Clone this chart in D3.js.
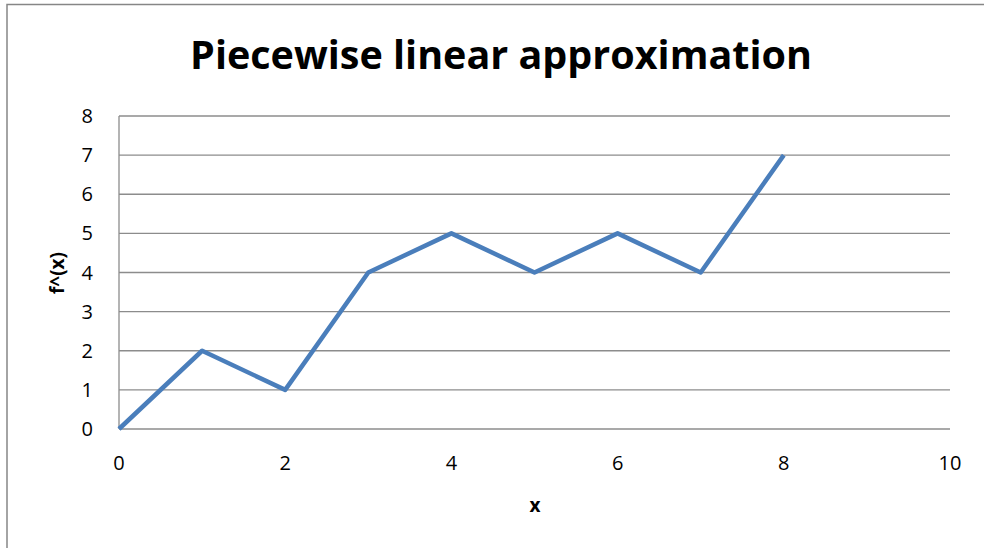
<!DOCTYPE html>
<html>
<head>
<meta charset="utf-8">
<script src="https://cdn.jsdelivr.net/npm/d3@7/dist/d3.min.js"></script>
<style>
  html, body { margin: 0; padding: 0; background: #fff; }
  svg { display: block; font-family: "Open Sans", "Liberation Sans", sans-serif; }
</style>
</head>
<body>
<svg id="chart" width="984" height="548"></svg>
<script>
// Sample points of the piecewise linear approximation
const xValues = [0, 1, 2, 3, 4, 5, 6, 7, 8];
const yValues = [0, 2, 1, 4, 5, 4, 5, 4, 7];
const xTicks = [0, 2, 4, 6, 8, 10];
const yTicks = [0, 1, 2, 3, 4, 5, 6, 7, 8];
const titleText = "Piecewise linear approximation";
const xLabel = "x";
const yLabel = "f^(x)";

const svg = d3.select("#chart");
const W = 984, H = 548;
const plot = { left: 119, right: 950, top: 116, bottom: 429 };

// Outer chart frame
svg.append("rect")
  .attr("x", 7).attr("y", 4.5)
  .attr("width", W + 10).attr("height", H + 10)
  .attr("fill", "#fff").attr("stroke", "#868686").attr("stroke-width", 1.5);

const x = d3.scaleLinear().domain([0, 10]).range([plot.left, plot.right]);
const y = d3.scaleLinear().domain([0, 8]).range([plot.bottom, plot.top]);

// Horizontal gridlines
svg.append("g")
  .selectAll("line")
  .data(yTicks)
  .join("line")
  .attr("x1", plot.left).attr("x2", plot.right)
  .attr("y1", d => y(d)).attr("y2", d => y(d))
  .attr("stroke", "#8c8c8c").attr("stroke-width", 1.3);

// Vertical axis line
svg.append("line")
  .attr("x1", x(0)).attr("x2", x(0))
  .attr("y1", plot.top).attr("y2", plot.bottom)
  .attr("stroke", "#8c8c8c").attr("stroke-width", 1.3);

// Y tick labels
svg.append("g")
  .selectAll("text")
  .data(yTicks)
  .join("text")
  .attr("x", 93).attr("y", d => y(d))
  .attr("dy", "0.35em")
  .attr("text-anchor", "end")
  .attr("font-size", 20)
  .attr("fill", "#000")
  .text(d => d);

// X tick labels
svg.append("g")
  .selectAll("text")
  .data(xTicks)
  .join("text")
  .attr("x", d => x(d)).attr("y", 463)
  .attr("dy", "0.35em")
  .attr("text-anchor", "middle")
  .attr("font-size", 20)
  .attr("fill", "#000")
  .text(d => d);

// Data line
const points = xValues.map((v, i) => [v, yValues[i]]);
svg.append("path")
  .datum(points)
  .attr("fill", "none")
  .attr("stroke", "#4a7ebb")
  .attr("stroke-width", 4.5)
  .attr("stroke-linejoin", "round")
  .attr("d", d3.line().x(d => x(d[0])).y(d => y(d[1])));

// Title, sized to span its intended width
const title = svg.append("text")
  .attr("x", 501).attr("y", 69)
  .attr("text-anchor", "middle")
  .attr("font-weight", "bold")
  .attr("font-size", 38)
  .attr("fill", "#000")
  .text(titleText);
const tw = title.node().getComputedTextLength();
title.attr("font-size", 38 * 622 / tw);

// Axis titles
svg.append("text")
  .attr("x", 535).attr("y", 505)
  .attr("dy", "0.35em")
  .attr("text-anchor", "middle")
  .attr("font-weight", "bold")
  .attr("font-size", 19)
  .text(xLabel);

svg.append("text")
  .attr("transform", "translate(57,273) rotate(-90)")
  .attr("dy", "0.35em")
  .attr("text-anchor", "middle")
  .attr("font-weight", "bold")
  .attr("font-size", 19)
  .text(yLabel);
</script>
</body>
</html>
